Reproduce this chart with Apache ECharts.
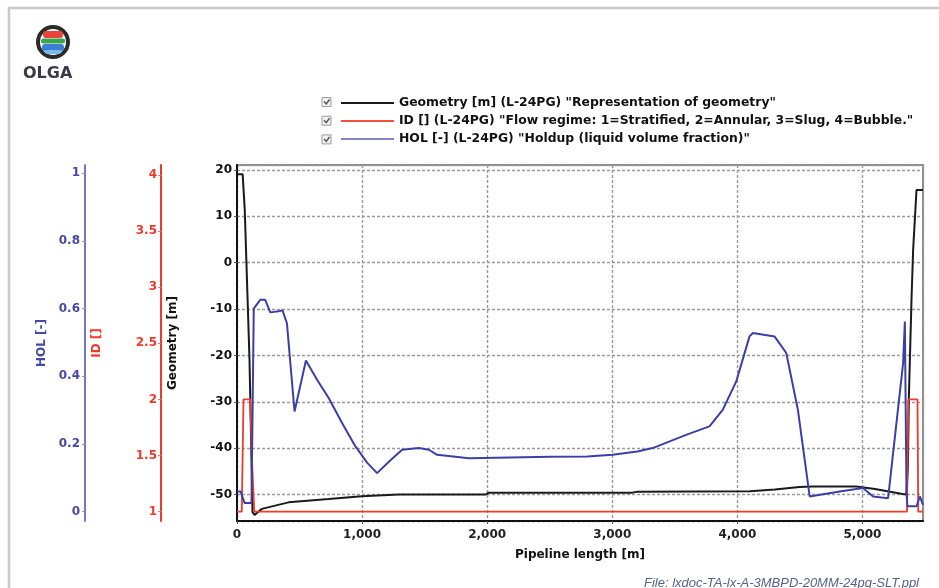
<!DOCTYPE html>
<html>
<head>
<meta charset="utf-8">
<title>OLGA profile</title>
<script src="https://cdn.jsdelivr.net/npm/echarts@6.0.0/dist/echarts.min.js"></script>
<style>
  html, body { margin: 0; padding: 0; background: #fff; }
  #chart { width: 939px; height: 588px; }
</style>
</head>
<body>
<div id="chart"></div>
<script>
// pipeline length [m] vs value
var geometryData = [
  [0, 19.1], [45, 19.1], [62, 11.4], [100, -21], [124, -53.8], [140, -54.4],
  [199, -53.1], [412, -51.7], [733, -51], [997, -50.4], [1294, -50], [1990, -50],
  [2010, -49.6], [3160, -49.6], [3200, -49.4], [4100, -49.3], [4300, -48.9],
  [4497, -48.4], [4600, -48.3], [4950, -48.3], [5100, -48.8], [5322, -49.9],
  [5352, -50], [5363, -44], [5371, -29], [5392, -8], [5405, 2.7], [5432, 15.7], [5484, 15.7]
];
var idData = [
  [0, 1], [38, 1], [52, 2], [106, 2], [118, 1.5], [138, 1],
  [5356, 1], [5366, 2], [5440, 2], [5446, 1], [5484, 1]
];
var holData = [
  [0, 0.06], [28, 0.06], [60, 0.026], [116, 0.026], [134, 0.6], [186, 0.626],
  [226, 0.626], [266, 0.589], [332, 0.592], [364, 0.595], [399, 0.557], [460, 0.296],
  [551, 0.447], [640, 0.39], [733, 0.336], [840, 0.262], [947, 0.193], [1040, 0.145],
  [1120, 0.114], [1220, 0.15], [1320, 0.183], [1454, 0.188], [1534, 0.183], [1600, 0.168],
  [1855, 0.158], [2180, 0.16], [2500, 0.162], [2800, 0.163], [3003, 0.168], [3200, 0.178],
  [3323, 0.188], [3590, 0.227], [3777, 0.252], [3883, 0.301], [3991, 0.385], [4097, 0.518],
  [4124, 0.528], [4297, 0.518], [4391, 0.469], [4484, 0.301], [4578, 0.045], [4818, 0.06],
  [5005, 0.07], [5085, 0.045], [5205, 0.04], [5325, 0.439], [5339, 0.562], [5352, 0.055],
  [5359, 0.016], [5432, 0.016], [5459, 0.045], [5484, 0.02]
];

var seriesNames = [
  'Geometry [m] (L-24PG) "Representation of geometry"',
  'ID [] (L-24PG) "Flow regime: 1=Stratified, 2=Annular, 3=Slug, 4=Bubble."',
  'HOL [-] (L-24PG) "Holdup (liquid volume fraction)"'
];

var FONT = 'DejaVu Sans';
var BLACK = '#1a1a1a', RED = '#ee3b2b', BLUE = '#3c40a4';
var BLUE_AXIS = '#7676c6', BLUE_TEXT = '#4848a8';

var chart = echarts.init(document.getElementById('chart'), null, { renderer: 'canvas' });

function thousands(v) {
  return String(v).replace(/\B(?=(\d{3})+(?!\d))/g, ',');
}

// little checked boxes in front of the legend rows
var legendRows = [102, 120.7, 139.4];
var checks = [];
legendRows.forEach(function (y) {
  checks.push({
    type: 'rect', shape: { x: 322, y: y - 4.5, width: 9, height: 9 },
    style: { fill: '#f2f2f2', stroke: '#9c9c9c', lineWidth: 1 }
  });
  checks.push({
    type: 'polyline', shape: { points: [[324, y - 0.5], [326.3, y + 2], [329.5, y - 2.5]] },
    style: { stroke: '#505050', lineWidth: 1.4, fill: null }
  });
});

var option = {
  backgroundColor: '#fff',
  animation: false,
  textStyle: { fontFamily: FONT },
  graphic: [
    // panel frame
    { type: 'rect', shape: { x: 9, y: 8, width: 960, height: 620 },
      style: { fill: null, stroke: '#c9c9c9', lineWidth: 2.5 }, silent: true },
    // OLGA logo
    { type: 'circle', shape: { cx: 53, cy: 42, r: 15 },
      style: { fill: '#fff', stroke: '#2b2b2b', lineWidth: 4 } },
    { type: 'rect', shape: { x: 43, y: 31, width: 20, height: 7, r: 3 }, style: { fill: '#e8453a' } },
    { type: 'rect', shape: { x: 41, y: 38.5, width: 24, height: 5, r: 2 }, style: { fill: '#3aa54a' } },
    { type: 'rect', shape: { x: 42, y: 44, width: 22, height: 7, r: 3 }, style: { fill: '#3a7fd0' } },
    { type: 'rect', shape: { x: 45, y: 50, width: 16, height: 4, r: 2 }, style: { fill: '#7cb8ea' } },
    { type: 'text', left: 23, top: 66,
      style: { text: 'OLGA', fill: '#3a3a46', font: 'bold 16px ' + FONT } },
    // file name under the plot
    { type: 'text', right: 20, top: 577,
      style: { text: 'File: lxdoc-TA-lx-A-3MBPD-20MM-24pq-SLT.ppl', fill: '#56628c',
               font: 'italic 13px Liberation Sans' } }
  ].concat(checks),
  legend: {
    orient: 'vertical',
    left: 336,
    top: 92,
    itemWidth: 53,
    itemHeight: 13,
    itemGap: 6,
    icon: 'path://M0,5.5L53,5.5L53,7.5L0,7.5Z',
    textStyle: { fontFamily: FONT, fontWeight: 'bold', fontSize: 12.4, color: '#111' },
    data: [
      { name: seriesNames[0], itemStyle: { color: BLACK } },
      { name: seriesNames[1], itemStyle: { color: '#f2503c' } },
      { name: seriesNames[2], itemStyle: { color: '#8383cc' } }
    ]
  },
  grid: {
    left: 237, right: 16, top: 165, bottom: 67,
    show: true, borderColor: '#8c8c8c', borderWidth: 2, backgroundColor: '#fff'
  },
  xAxis: {
    type: 'value',
    min: 0, max: 5484, interval: 1000,
    name: 'Pipeline length [m]',
    nameLocation: 'middle',
    nameGap: 28,
    nameTextStyle: { fontFamily: FONT, fontWeight: 'bold', fontSize: 12, color: '#111' },
    axisLine: { show: true, onZero: false, lineStyle: { color: '#111', width: 2 } },
    axisTick: { show: true, length: 3, lineStyle: { color: '#555' } },
    axisLabel: { fontFamily: FONT, fontWeight: 'bold', fontSize: 12, color: '#222',
                 margin: 8, showMaxLabel: false, formatter: thousands },
    splitLine: { show: true, lineStyle: { color: '#9a9a9a', width: 1.4, type: [3, 2] } }
  },
  yAxis: [
    {
      type: 'value', position: 'left', offset: 0,
      min: -55.72, max: 21.08, splitNumber: 8,
      name: 'Geometry [m]', nameLocation: 'middle', nameGap: 58,
      nameTextStyle: { fontFamily: FONT, fontWeight: 'bold', fontSize: 12, color: '#111' },
      axisLine: { show: true, lineStyle: { color: '#111', width: 2 } },
      axisTick: { show: true, length: 3, lineStyle: { color: '#555' } },
      axisLabel: { fontFamily: FONT, fontWeight: 'bold', fontSize: 12, color: '#111',
                   margin: 5, showMinLabel: false, showMaxLabel: false },
      splitLine: { show: true, lineStyle: { color: '#9a9a9a', width: 1.4, type: [3, 2] } }
    },
    {
      type: 'value', position: 'left', offset: 76,
      min: 0.917, max: 4.089, splitNumber: 6,
      name: 'ID []', nameLocation: 'middle', nameGap: 58,
      nameTextStyle: { fontFamily: FONT, fontWeight: 'bold', fontSize: 12, color: RED },
      axisLine: { show: true, lineStyle: { color: RED, width: 2 } },
      axisTick: { show: true, length: 3, lineStyle: { color: '#999' } },
      axisLabel: { fontFamily: FONT, fontWeight: 'bold', fontSize: 12, color: RED,
                   margin: 4, showMinLabel: false, showMaxLabel: false },
      splitLine: { show: false }
    },
    {
      type: 'value', position: 'left', offset: 152,
      min: -0.0275, max: 1.0245, splitNumber: 5,
      name: 'HOL [-]', nameLocation: 'middle', nameGap: 32,
      nameTextStyle: { fontFamily: FONT, fontWeight: 'bold', fontSize: 12, color: BLUE_TEXT },
      axisLine: { show: true, lineStyle: { color: BLUE_AXIS, width: 2 } },
      axisTick: { show: true, length: 3, lineStyle: { color: '#999' } },
      axisLabel: { fontFamily: FONT, fontWeight: 'bold', fontSize: 12, color: BLUE_TEXT,
                   margin: 5, showMinLabel: false, showMaxLabel: false },
      splitLine: { show: false }
    }
  ],
  series: [
    {
      name: seriesNames[0], type: 'line', yAxisIndex: 0, data: geometryData,
      symbol: 'none', lineStyle: { color: BLACK, width: 2 }, itemStyle: { color: BLACK }
    },
    {
      name: seriesNames[1], type: 'line', yAxisIndex: 1, data: idData,
      symbol: 'none', lineStyle: { color: RED, width: 1.8 }, itemStyle: { color: RED }
    },
    {
      name: seriesNames[2], type: 'line', yAxisIndex: 2, data: holData,
      symbol: 'none', lineStyle: { color: BLUE, width: 2 }, itemStyle: { color: BLUE }
    }
  ]
};

chart.setOption(option);
</script>
</body>
</html>
